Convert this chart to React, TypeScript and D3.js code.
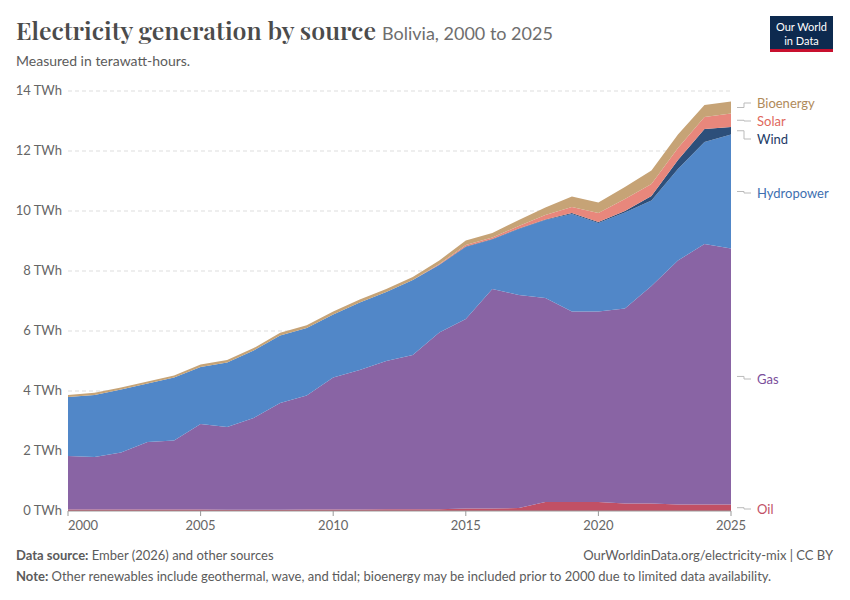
import React from "react";
import * as d3 from "d3";

const years = d3.range(2000, 2026);
const oil = [0.05,0.05,0.05,0.05,0.05,0.05,0.04,0.04,0.04,0.05,0.05,0.05,0.06,0.06,0.06,0.08,0.08,0.1,0.3,0.3,0.3,0.25,0.25,0.22,0.22,0.22];
const gasTop = [1.83,1.8,1.95,2.3,2.35,2.9,2.8,3.1,3.6,3.85,4.45,4.7,5.0,5.2,5.95,6.4,7.4,7.2,7.1,6.65,6.65,6.75,7.5,8.35,8.9,8.75];
const hydroTop = [3.8,3.87,4.05,4.25,4.45,4.8,4.95,5.35,5.85,6.1,6.55,6.95,7.3,7.7,8.2,8.8,9.05,9.4,9.7,9.9,9.6,9.95,10.35,11.4,12.3,12.55];
const wind = [0,0,0,0,0,0,0,0,0,0,0,0,0,0,0.01,0.02,0.02,0.02,0.02,0.03,0.03,0.05,0.15,0.3,0.43,0.25];
const solar = [0,0,0,0,0,0,0,0,0,0,0,0,0,0,0.02,0.05,0.05,0.08,0.15,0.2,0.3,0.4,0.4,0.4,0.4,0.45];
const bio = [0.07,0.07,0.07,0.07,0.07,0.08,0.08,0.08,0.09,0.09,0.1,0.1,0.1,0.1,0.12,0.15,0.15,0.2,0.25,0.35,0.35,0.4,0.45,0.45,0.4,0.4];
const gas = gasTop.map((v, i) => v - oil[i]);
const hydro = hydroTop.map((v, i) => v - gasTop[i]);
const yTicks = [0, 2, 4, 6, 8, 10, 12, 14];
const xTicks = [2000, 2005, 2010, 2015, 2020, 2025];

const series = [
  { name: "Oil", vals: oil, color: "#c15065", text: "#c15065", ly: 509 },
  { name: "Gas", vals: gas, color: "#8964a4", text: "#7a4e9a", ly: 379 },
  { name: "Hydropower", vals: hydro, color: "#5187c8", text: "#3e6fb0", ly: 193 },
  { name: "Wind", vals: wind, color: "#2d4f7a", text: "#1d3a66", ly: 139 },
  { name: "Solar", vals: solar, color: "#e8877c", text: "#e0685c", ly: 121 },
  { name: "Bioenergy", vals: bio, color: "#c6a376", text: "#b08a5a", ly: 103 },
];

export default function App() {
  const x = d3.scaleLinear().domain([2000, 2025]).range([68, 731]);
  const y = d3.scaleLinear().domain([0, 14]).range([511, 91]);
  const table = years.map((yr, i) => {
    const o: any = { year: yr };
    series.forEach((s) => (o[s.name] = s.vals[i]));
    return o;
  });
  const stacked = d3.stack().keys(series.map((s) => s.name))(table as any);
  const area = d3.area<any>().x((d) => x(d.data.year)).y0((d) => y(d[0])).y1((d) => y(d[1]));
  const font = "Lato, 'Noto Sans', sans-serif";
  return (
    <svg width={850} height={600} style={{ position: "absolute", left: 0, top: 0, fontFamily: font }}>
      <rect width={850} height={600} fill="#fff" />
      <text x={16} y={40} fontFamily="'Playfair Display', 'DejaVu Serif', Georgia, serif" fontSize={24} fontWeight="600" fill="#4b4b4b" textLength={360} lengthAdjust="spacingAndGlyphs">
        Electricity generation by source
      </text>
      <text x={382} y={40} fontSize={18} fill="#6e6e6e">Bolivia, 2000 to 2025</text>
      <text x={16} y={66} fontSize={14} fill="#5b5b5b">Measured in terawatt-hours.</text>
      <rect x={770} y={16} width={63} height={35} fill="#0d2a4f" />
      <rect x={770} y={49} width={63} height={3} fill="#c8102e" />
      <text x={801.5} y={31} fontSize={11} fill="#fff" textAnchor="middle">Our World</text>
      <text x={801.5} y={45} fontSize={11} fill="#fff" textAnchor="middle">in Data</text>
      {yTicks.map((t) => (
        <g key={t}>
          {t > 0 && <line x1={68} x2={731} y1={y(t)} y2={y(t)} stroke="#ddd" strokeDasharray="4,3" />}
          <text x={62} y={y(t) + 4} fontSize={13} fill="#666" textAnchor="end">{t} TWh</text>
        </g>
      ))}
      {stacked.map((s, i) => (
        <path key={s.key} d={area(s as any) || ""} fill={series[i].color} />
      ))}
      <line x1={68} x2={731} y1={511} y2={511} stroke="#999" />
      {xTicks.map((t) => (
        <g key={t}>
          <line x1={x(t)} x2={x(t)} y1={511} y2={516} stroke="#999" />
          <text x={t === 2000 ? 68 : x(t)} y={530} fontSize={13} fill="#666" textAnchor={t === 2000 ? "start" : "middle"}>{t}</text>
        </g>
      ))}
      {stacked.map((s, i) => {
        const last = s[s.length - 1];
        const my = y((last[0] + last[1]) / 2);
        const ly = series[i].ly;
        return (
          <g key={"l" + s.key}>
            <path d={`M737,${my}H744V${ly}H751`} fill="none" stroke="#bbb" />
            <text x={757} y={ly + 5} fontSize={13} fill={series[i].text}>{series[i].name}</text>
          </g>
        );
      })}
      <text x={16} y={560} fontSize={13} fill="#5b5b5b"><tspan fontWeight="bold">Data source:</tspan> Ember (2026) and other sources</text>
      <text x={833} y={560} fontSize={13} fill="#5b5b5b" textAnchor="end">OurWorldinData.org/electricity-mix | CC BY</text>
      <text x={16} y={581} fontSize={13} fill="#5b5b5b"><tspan fontWeight="bold">Note:</tspan> Other renewables include geothermal, wave, and tidal; bioenergy may be included prior to 2000 due to limited data availability.</text>
    </svg>
  );
}
